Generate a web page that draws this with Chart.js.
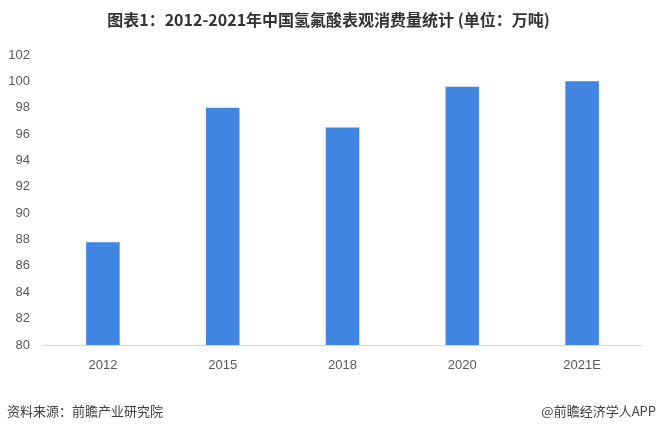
<!DOCTYPE html>
<html>
<head>
<meta charset="utf-8">
<script src="https://cdn.jsdelivr.net/npm/chart.js@4/dist/chart.umd.min.js"></script>
<style>
  html, body { margin: 0; padding: 0; background: #ffffff; }
  #wrap { position: relative; width: 657px; height: 431px; }
</style>
</head>
<body>
<div id="wrap"><canvas id="c" width="657" height="431"></canvas></div>
<script>
const titleText = '图表1：2012-2021年中国氢氟酸表观消费量统计 (单位：万吨)';
const sourceText = '资料来源：前瞻产业研究院';
const brandText = '@前瞻经济学人APP';
const categories = ['2012', '2015', '2018', '2020', '2021E'];
const consumption = [87.8, 98.0, 96.5, 99.6, 100.0];
const yMin = 80, yMax = 102, yStep = 2;

const FONT = '"Noto Sans CJK SC", "Noto Sans", sans-serif';
const TICK_FONT = 'Arial, "Liberation Sans", sans-serif';

const textPlugin = {
  id: 'texts',
  afterDraw(chart) {
    const ctx = chart.ctx;
    ctx.save();
    ctx.fillStyle = '#333333';
    ctx.font = 'bold 16px ' + FONT;
    ctx.textAlign = 'center';
    ctx.textBaseline = 'middle';
    ctx.fillText(titleText, 328.5, 20);
    ctx.font = '13px ' + FONT;
    ctx.fillStyle = '#404040';
    ctx.textAlign = 'left';
    ctx.fillText(sourceText, 7, 411);
    ctx.textAlign = 'right';
    ctx.fillText(brandText, 656, 411);
    ctx.restore();
  }
};

new Chart(document.getElementById('c'), {
  type: 'bar',
  data: {
    labels: categories,
    datasets: [{
      data: consumption,
      backgroundColor: '#4186e3',
      borderWidth: 0,
      categoryPercentage: 1,
      barPercentage: 0.28
    }]
  },
  options: {
    responsive: false,
    animation: false,
    devicePixelRatio: 1,
    layout: { padding: { top: 55, bottom: 50, right: 15, left: 0 } },
    plugins: { legend: { display: false }, tooltip: { enabled: false }, title: { display: false } },
    scales: {
      x: {
        grid: { display: false, drawTicks: false },
        border: { display: true, color: '#d9d9d9', width: 1 },
        ticks: { color: '#595959', font: { size: 13, family: TICK_FONT }, padding: 13, maxRotation: 0 },
        afterFit(scale) { scale.height = 36; }
      },
      y: {
        min: yMin, max: yMax,
        grid: { display: false, drawTicks: false },
        border: { display: false },
        ticks: { stepSize: yStep, color: '#595959', font: { size: 13, family: TICK_FONT }, padding: 13 },
        afterFit(scale) { scale.width = 43; }
      }
    }
  },
  plugins: [textPlugin]
});
</script>
</body>
</html>
